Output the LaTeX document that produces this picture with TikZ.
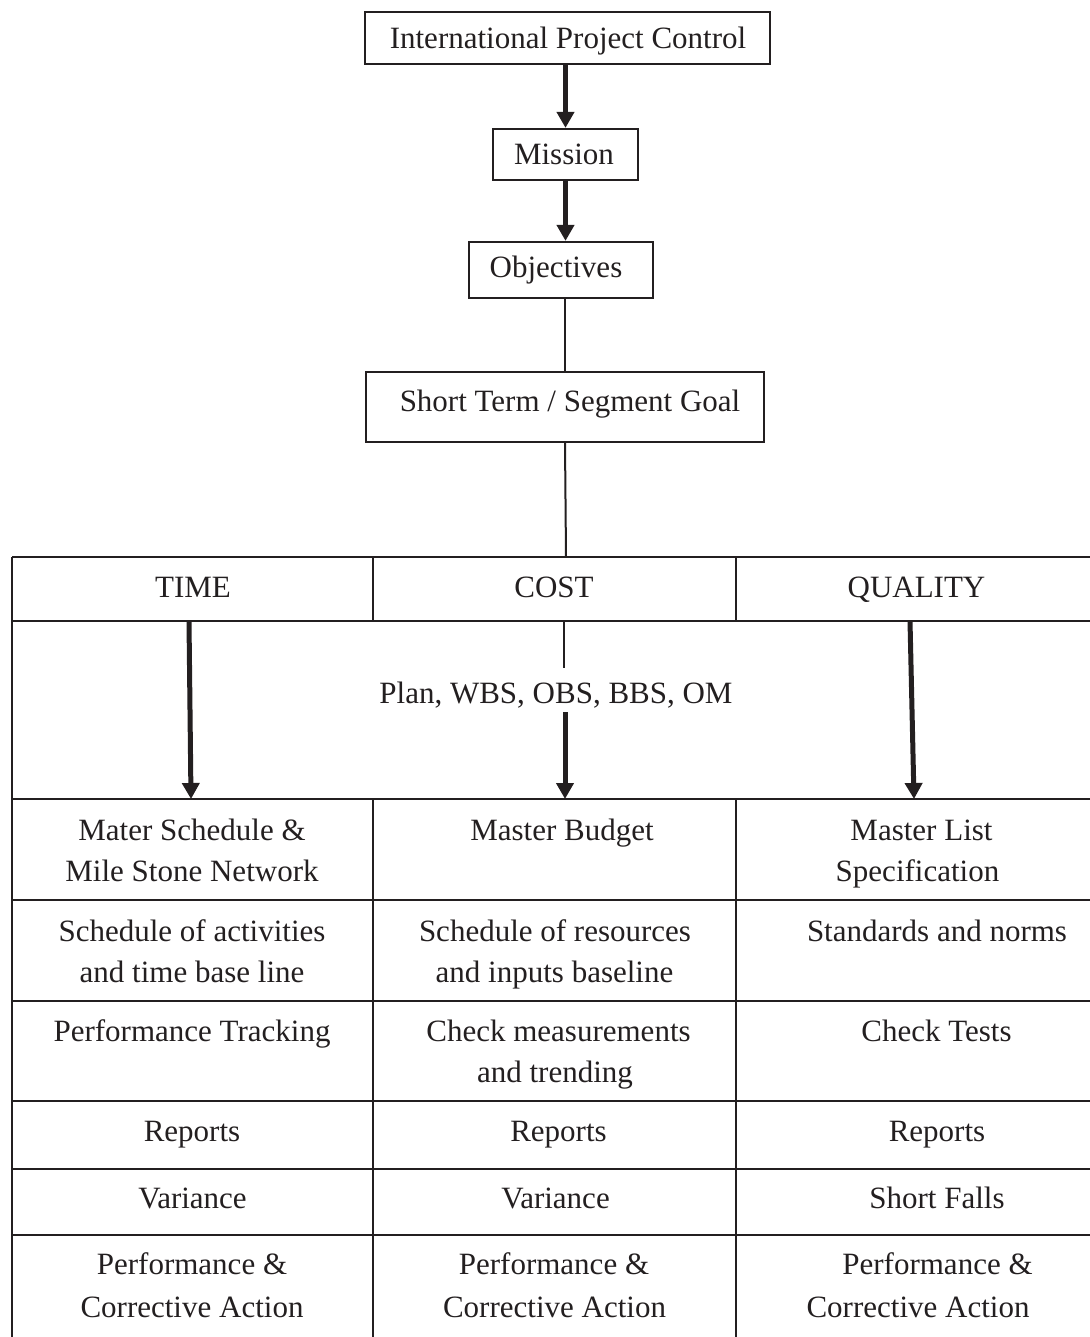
\documentclass[tikz,border=0pt]{standalone}
\usepackage{fontspec}
\setmainfont{Liberation Serif}
\usetikzlibrary{arrows.meta}
\definecolor{ink}{HTML}{231F20}
\begin{document}
\begin{tikzpicture}[x=1pt,y=-1pt,
  box/.style={draw=ink,line width=2.2pt,inner sep=0pt},
  txt/.style={anchor=base,inner sep=0pt,text=ink,font=\fontsize{31}{41}\selectfont},
  rule/.style={draw=ink,line width=2.2pt},
  thinlink/.style={draw=ink,line width=2pt},
  flow/.style={draw=ink,line width=5pt,-{Triangle[length=16pt,width=17pt]}},
]
\useasboundingbox (0,0) rectangle (1089,1337);

% ---- upper chain of boxes ----
\node[box,minimum width=405pt,minimum height=52pt] (ipc) at (567.5,38) {};
\node[box,minimum width=145pt,minimum height=51pt] (mis) at (565.5,154.5) {};
\node[box,minimum width=184pt,minimum height=56pt] (obj) at (561,270) {};
\node[box,minimum width=398pt,minimum height=70pt] (stg) at (565,407) {};

\node[txt] (ipct) at (568,49) {International Project Control};
\node[txt] (mist) at (564,165) {Mission};
\node[txt] (objt) at (556,278) {Objectives};
\node[txt] (stgt) at (570,411) {Short Term / Segment Goal};

\draw[flow] (ipc.south -| mis.north) -- (mis.north);
\draw[flow] (mis.south) -- (mis.south |- obj.north);
\draw[thinlink] (stg.north |- obj.south) -- (stg.north);

% ---- table grid ----
\coordinate (tabtop) at (566,557);
\draw[thinlink] (stg.south |- stg.south) -- (tabtop);

\foreach \y in {557,621,799,900,1001,1101,1169,1235}
  \draw[rule] (12,\y) -- (1099,\y);
\draw[rule] (12,557) -- (12,1345);
\draw[rule] (1099,557) -- (1099,1345);
\foreach \x in {373,736} {
  \draw[rule] (\x,557) -- (\x,621);
  \draw[rule] (\x,799) -- (\x,1345);
}

% ---- header row ----
\node[txt] (hT) at (193,597) {TIME};
\node[txt] (hC) at (554,597) {COST};
\node[txt] (hQ) at (916.5,597) {QUALITY};

% ---- planning band ----
\node[txt] (plan) at (556,703) {Plan, WBS, OBS, BBS, OM};

\coordinate (tA) at (189,621);  \coordinate (tB) at (191,799);
\coordinate (cA) at (564,621);  \coordinate (cB) at (564,668);
\coordinate (cC) at (565,712);  \coordinate (cD) at (565,799);
\coordinate (qA) at (910,621);  \coordinate (qB) at (914,799);

\draw[flow] (tA) -- (tB);
\draw[thinlink] (cA) -- (cB);
\draw[flow] (cC) -- (cD);
\draw[flow] (qA) -- (qB);

% ---- row 1 ----
\node[txt] (r1a1) at (192,840) {Mater Schedule \&};
\node[txt] (r1a2) at (192,881) {Mile Stone Network};
\node[txt] (r1b1) at (562,840) {Master Budget};
\node[txt] (r1c1) at (921.5,840) {Master List};
\node[txt] (r1c2) at (917.5,881) {Specification};

% ---- row 2 ----
\node[txt] (r2a1) at (192,941) {Schedule of activities};
\node[txt] (r2a2) at (192,982) {and time base line};
\node[txt] (r2b1) at (555,941) {Schedule of resources};
\node[txt] (r2b2) at (554.5,982) {and inputs baseline};
\node[txt] (r2c1) at (937,941) {Standards and norms};

% ---- row 3 ----
\node[txt] (r3a1) at (192,1041) {Performance Tracking};
\node[txt] (r3b1) at (558.5,1041) {Check measurements};
\node[txt] (r3b2) at (555,1082) {and trending};
\node[txt] (r3c1) at (936.5,1041) {Check Tests};

% ---- row 4 ----
\node[txt] (r4a) at (192,1141) {Reports};
\node[txt] (r4b) at (558.5,1141) {Reports};
\node[txt] (r4c) at (937,1141) {Reports};

% ---- row 5 ----
\node[txt] (r5a) at (192.5,1208) {Variance};
\node[txt] (r5b) at (555.5,1208) {Variance};
\node[txt] (r5c) at (937,1208) {Short Falls};

% ---- row 6 ----
\node[txt] (r6a1) at (192,1274) {Performance \&};
\node[txt] (r6a2) at (192,1317) {Corrective Action};
\node[txt] (r6b1) at (554,1274) {Performance \&};
\node[txt] (r6b2) at (554.5,1317) {Corrective Action};
\node[txt] (r6c1) at (937.5,1274) {Performance \&};
\node[txt] (r6c2) at (918,1317) {Corrective Action};
\end{tikzpicture}
\end{document}
